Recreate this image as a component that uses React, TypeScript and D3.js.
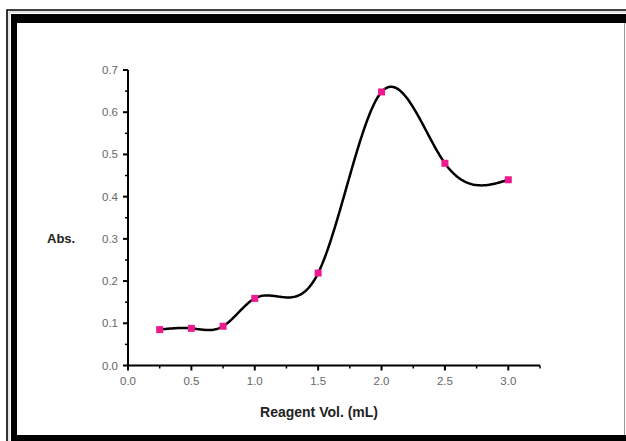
import React from "react";
import * as d3 from "d3";

const xValues = [0.25, 0.5, 0.75, 1.0, 1.5, 2.0, 2.5, 3.0];
const yValues = [0.085, 0.088, 0.093, 0.159, 0.219, 0.648, 0.479, 0.44];
const xTicks = [0, 0.5, 1.0, 1.5, 2.0, 2.5, 3.0];
const yTicks = [0, 0.1, 0.2, 0.3, 0.4, 0.5, 0.6, 0.7];
const xLabel = "Reagent Vol. (mL)";
const yLabel = "Abs.";

// natural cubic spline parameterized by x
function naturalSpline(xs: number[], ys: number[]) {
  const n = xs.length;
  const h = xs.slice(1).map((v, i) => v - xs[i]);
  const a = new Array(n).fill(0), b = new Array(n).fill(1), c = new Array(n).fill(0), r = new Array(n).fill(0);
  for (let i = 1; i < n - 1; i++) {
    a[i] = h[i - 1];
    b[i] = 2 * (h[i - 1] + h[i]);
    c[i] = h[i];
    r[i] = 6 * ((ys[i + 1] - ys[i]) / h[i] - (ys[i] - ys[i - 1]) / h[i - 1]);
  }
  // Thomas algorithm
  const cp = new Array(n).fill(0), rp = new Array(n).fill(0);
  cp[0] = c[0] / b[0];
  rp[0] = r[0] / b[0];
  for (let i = 1; i < n; i++) {
    const m = b[i] - a[i] * cp[i - 1];
    cp[i] = c[i] / m;
    rp[i] = (r[i] - a[i] * rp[i - 1]) / m;
  }
  const M = new Array(n).fill(0);
  M[n - 1] = rp[n - 1];
  for (let i = n - 2; i >= 0; i--) M[i] = rp[i] - cp[i] * M[i + 1];
  return (t: number) => {
    let i = 0;
    while (i < n - 2 && t > xs[i + 1]) i++;
    const hi = h[i];
    const A = (xs[i + 1] - t) / hi, B = (t - xs[i]) / hi;
    return A * ys[i] + B * ys[i + 1] + ((A * A * A - A) * M[i] + (B * B * B - B) * M[i + 1]) * hi * hi / 6;
  };
}

export default function App() {
  const W = 626, H = 441;
  const x = d3.scaleLinear().domain([0, 3.25]).range([128, 540]);
  const y = d3.scaleLinear().domain([0, 0.7]).range([365.5, 70]);
  const pts = xValues.map((v, i) => [v, yValues[i]] as [number, number]);
  const f = naturalSpline(xValues, yValues);
  const samples = d3.range(xValues[0], xValues[xValues.length - 1] + 1e-9, 0.01).map((t) => [t, f(t)] as [number, number]);
  const line = d3
    .line<[number, number]>()
    .x((d) => x(d[0]))
    .y((d) => y(d[1]));
  const xMinor = d3.range(0.25, 3.26, 0.5);
  const yMinor = d3.range(0.05, 0.7, 0.1);
  const font = "Arial, 'Liberation Sans', sans-serif";
  return (
    <svg width={W} height={H} style={{ position: "absolute", left: 0, top: 0, background: "#fff" }}>
      {/* frame */}
      <path d="M7,441 V10 H626" fill="none" stroke="#000" strokeWidth={1.6} />
      <path d="M9,441 V12 H626" fill="none" stroke="#bbb" strokeWidth={0.8} />
      <rect x={11} y={14} width={615} height={9} fill="#000" />
      <rect x={11} y={14} width={6} height={427} fill="#000" />
      <rect x={11} y={435} width={615} height={6} fill="#000" />
      <line x1={624.5} x2={624.5} y1={23} y2={435} stroke="#999" strokeWidth={1} />

      {/* axes */}
      <line x1={x(0)} x2={x(3.25)} y1={y(0)} y2={y(0)} stroke="#000" strokeWidth={2} />
      <line x1={x(0)} x2={x(0)} y1={y(0)} y2={y(0.7)} stroke="#000" strokeWidth={2} />
      {xTicks.map((t) => (
        <g key={"xt" + t}>
          <line x1={x(t)} x2={x(t)} y1={y(0)} y2={y(0) + 5} stroke="#000" strokeWidth={2} />
          <text x={x(t)} y={y(0) + 19} textAnchor="middle" fontFamily={font} fontSize={11.5} fill="#666">
            {t.toFixed(1)}
          </text>
        </g>
      ))}
      {xMinor.map((t) => (
        <line key={"xm" + t} x1={x(t)} x2={x(t)} y1={y(0)} y2={y(0) + 3} stroke="#000" strokeWidth={1.5} />
      ))}
      {yTicks.map((t) => (
        <g key={"yt" + t}>
          <line x1={x(0) - 5} x2={x(0)} y1={y(t)} y2={y(t)} stroke="#000" strokeWidth={2} />
          <text x={x(0) - 10} y={y(t) + 4} textAnchor="end" fontFamily={font} fontSize={11.5} fill="#666">
            {t.toFixed(1)}
          </text>
        </g>
      ))}
      {yMinor.map((t) => (
        <line key={"ym" + t} x1={x(0) - 3} x2={x(0)} y1={y(t)} y2={y(t)} stroke="#000" strokeWidth={1.5} />
      ))}
      <text x={319} y={417} textAnchor="middle" fontFamily={font} fontSize={14} fontWeight="bold" fill="#222">
        {xLabel}
      </text>
      <text x={47} y={243} fontFamily={font} fontSize={13} fontWeight="bold" fill="#222">
        {yLabel}
      </text>

      {/* curve */}
      <path d={line(samples) || ""} fill="none" stroke="#000" strokeWidth={2.5} />
      {pts.map((p, i) => (
        <rect key={"p" + i} x={x(p[0]) - 3.5} y={y(p[1]) - 3.5} width={7} height={7} fill="#ec1a8c" />
      ))}
    </svg>
  );
}
